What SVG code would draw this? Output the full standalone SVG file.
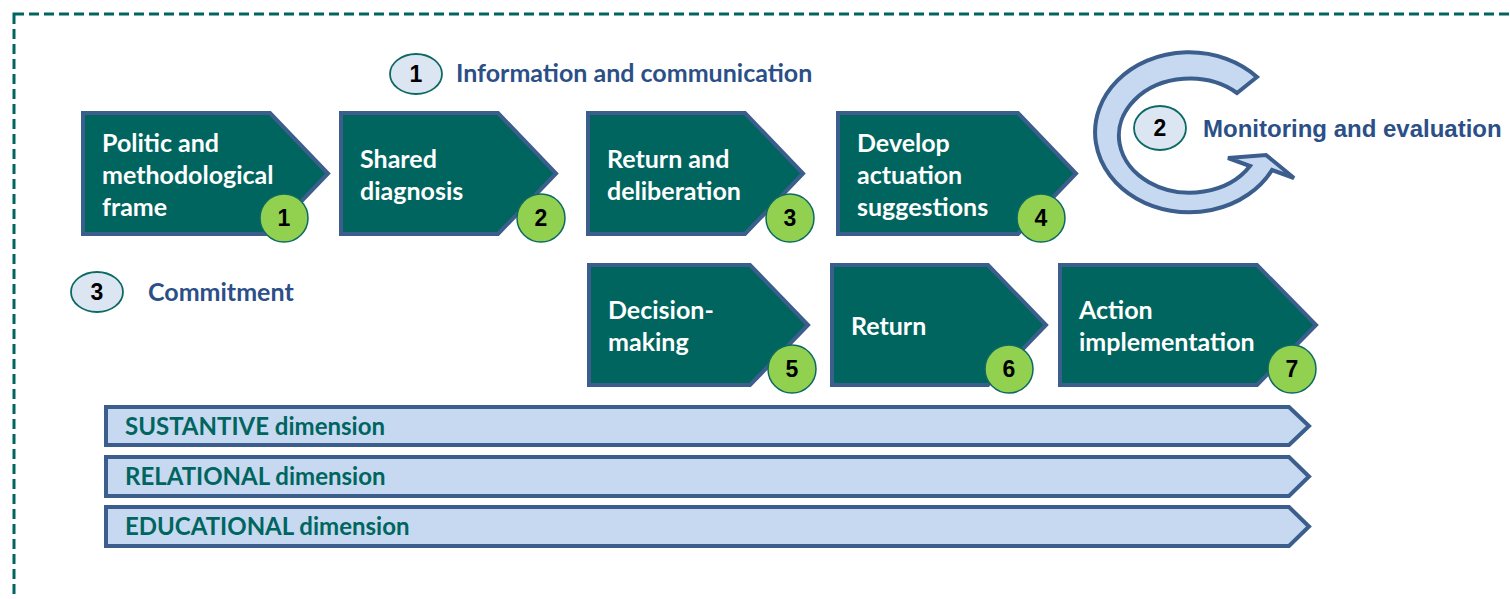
<svg xmlns="http://www.w3.org/2000/svg" width="1510" height="599" viewBox="0 0 1510 599">
<style>
.step{fill:#00655f;stroke:#3b5e8c;stroke-width:4;stroke-linejoin:miter}
.st{font-family:Lato,"Liberation Sans",sans-serif;font-weight:700;font-size:25px;fill:#ffffff}
.badge{fill:#92d050;stroke:#0c6a62;stroke-width:1.5}
.num{font-family:"Liberation Sans",Arial,sans-serif;font-weight:700;font-size:23px;fill:#000000;text-anchor:middle}
.dim{fill:#c6d9f1;stroke:#3b5e8c;stroke-width:4}
.dt{font-family:Lato,"Liberation Sans",sans-serif;font-weight:700;font-size:24px;fill:#00655f}
.lab{fill:#dce6f2;stroke:#0c6a62;stroke-width:1.8}
.lt{font-family:Lato,"Liberation Sans",sans-serif;font-weight:700;font-size:25px;fill:#2b4f87}
.lt2{font-family:"Liberation Sans",Arial,sans-serif;font-weight:700;font-size:24px;fill:#2b4f87}
</style>
<rect width="1510" height="599" fill="#ffffff"/>
<rect id="frame" x="14" y="14" width="1530" height="620" fill="none" stroke="#00655f" stroke-width="3" stroke-dasharray="10 5"/>

<g id="label-info">
<ellipse class="lab" cx="416" cy="74" rx="26" ry="20"/>
<text class="num" x="416" y="82">1</text>
<text class="lt" x="456" y="82">Information and communication</text>
</g>
<g id="label-monitoring">
<path d="M1257,77 A94,80 0 1 0 1272,170 L1294,178 L1266,155 L1228,158 L1250,166 A71,57 0 1 1 1237,93 Z" fill="#c6d9f1" stroke="#3b5e8c" stroke-width="4" stroke-linejoin="miter"/>
<ellipse class="lab" cx="1160" cy="128" rx="26" ry="22"/>
<text class="num" x="1160" y="136">2</text>
<text class="lt2" x="1203" y="137">Monitoring and evaluation</text>
</g>
<g id="label-commitment">
<ellipse class="lab" cx="97" cy="292" rx="26" ry="20"/>
<text class="num" x="97" y="300">3</text>
<text class="lt" x="148" y="301">Commitment</text>
</g>

<g id="step1">
<path class="step" d="M83,113 H270 L328,173.5 L270,234 H83 Z"/>
<text class="st" x="102" y="152">Politic and</text>
<text class="st" x="102" y="184">methodological</text>
<text class="st" x="102" y="216">frame</text>
<circle class="badge" cx="284" cy="218" r="24"/>
<text class="num" x="284" y="226">1</text>
</g>
<g id="step2">
<path class="step" d="M341,113 H498 L556,173.5 L498,234 H341 Z"/>
<text class="st" x="360" y="168">Shared</text>
<text class="st" x="360" y="200">diagnosis</text>
<circle class="badge" cx="541" cy="218" r="24"/>
<text class="num" x="541" y="226">2</text>
</g>
<g id="step3">
<path class="step" d="M588,113 H745 L803,173.5 L745,234 H588 Z"/>
<text class="st" x="607" y="168">Return and</text>
<text class="st" x="607" y="200">deliberation</text>
<circle class="badge" cx="790" cy="218" r="24"/>
<text class="num" x="790" y="226">3</text>
</g>
<g id="step4">
<path class="step" d="M838,113 H1018 L1076,173.5 L1018,234 H838 Z"/>
<text class="st" x="857" y="152">Develop</text>
<text class="st" x="857" y="184">actuation</text>
<text class="st" x="857" y="216">suggestions</text>
<circle class="badge" cx="1041" cy="218" r="24"/>
<text class="num" x="1041" y="226">4</text>
</g>
<g id="step5">
<path class="step" d="M589,265 H750 L808,325 L750,385 H589 Z"/>
<text class="st" x="608" y="319">Decision-</text>
<text class="st" x="608" y="351">making</text>
<circle class="badge" cx="792" cy="369" r="24"/>
<text class="num" x="792" y="377">5</text>
</g>
<g id="step6">
<path class="step" d="M832,265 H988 L1046,325 L988,385 H832 Z"/>
<text class="st" x="851" y="335">Return</text>
<circle class="badge" cx="1009" cy="369" r="24"/>
<text class="num" x="1009" y="377">6</text>
</g>
<g id="step7">
<path class="step" d="M1060,265 H1257 L1316,325 L1257,385 H1060 Z"/>
<text class="st" x="1079" y="319">Action</text>
<text class="st" x="1079" y="351">implementation</text>
<circle class="badge" cx="1292" cy="369" r="24"/>
<text class="num" x="1292" y="377">7</text>
</g>

<g id="dim-sustantive">
<path class="dim" d="M106,407 H1289 L1309,426 L1289,445 H106 Z"/>
<text class="dt" x="125" y="435">SUSTANTIVE dimension</text>
</g>
<g id="dim-relational">
<path class="dim" d="M106,457 H1289 L1309,476.5 L1289,496 H106 Z"/>
<text class="dt" x="125" y="485">RELATIONAL dimension</text>
</g>
<g id="dim-educational">
<path class="dim" d="M106,507 H1289 L1309,526.5 L1289,546 H106 Z"/>
<text class="dt" x="125" y="535">EDUCATIONAL dimension</text>
</g>
<g id="connectors"></g>
</svg>
